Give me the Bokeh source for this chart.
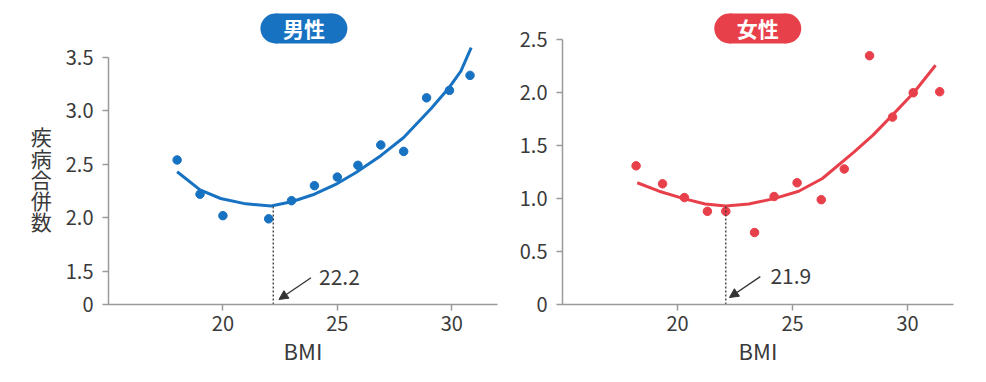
from bokeh.plotting import figure
from bokeh.layouts import row
from bokeh.models import Range1d, FixedTicker, Label, Arrow, NormalHead, NumeralTickFormatter
from bokeh.core.properties import value
from bokeh.embed import file_html
from bokeh.resources import INLINE

# ---------------- data ----------------
# Male (男性)
male_bmi = [18.0, 19.0, 20.0, 22.0, 23.0, 24.0, 25.0, 25.9, 26.9, 27.9, 28.9, 29.9, 30.8]
male_cnt = [2.54, 2.22, 2.02, 1.99, 2.16, 2.30, 2.38, 2.49, 2.68, 2.62, 3.12, 3.19, 3.33]
male_fit_x = [18.0, 19.0, 19.9, 21.0, 22.1, 23.0, 24.0, 25.0, 25.8, 26.9, 27.9, 29.1, 29.9, 30.4, 30.85]
male_fit_y = [2.43, 2.26, 2.18, 2.13, 2.11, 2.15, 2.22, 2.32, 2.42, 2.58, 2.75, 3.02, 3.22, 3.37, 3.59]
male_opt = 22.2
male_opt_label = "22.2"
male_opt_y = 2.11

# Female (女性)
female_bmi = [18.2, 19.35, 20.3, 21.3, 22.1, 23.35, 24.2, 25.2, 26.25, 27.25, 28.35, 29.35, 30.25, 31.4]
female_cnt = [1.31, 1.14, 1.01, 0.88, 0.88, 0.68, 1.02, 1.15, 0.99, 1.28, 2.35, 1.77, 2.00, 2.01]
female_fit_x = [18.25, 19.2, 20.27, 21.2, 22.1, 23.1, 24.2, 25.27, 26.3, 27.67, 28.5, 29.26, 30.27, 31.22]
female_fit_y = [1.15, 1.07, 1.00, 0.95, 0.93, 0.95, 1.00, 1.07, 1.19, 1.44, 1.60, 1.77, 2.00, 2.26]
female_opt = 22.1
female_opt_label = "21.9"
female_opt_y = 0.93

x_ticks = [20, 25, 30]
male_y_ticks = [1.19, 1.5, 2.0, 2.5, 3.0, 3.5]
female_y_ticks = [0.0, 0.5, 1.0, 1.5, 2.0, 2.5]

BLUE = "#1872c2"
RED = "#e8404b"
AXIS = "#9a9a9a"
TXT = "#3a3a3a"
FONT = "Noto Sans CJK JP"


def style(p):
    p.outline_line_color = None
    p.grid.grid_line_color = None
    p.background_fill_color = "white"
    p.border_fill_color = "white"
    for ax in (p.xaxis[0], p.yaxis[0]):
        ax.axis_line_color = AXIS
        ax.axis_line_width = 1.5
        ax.major_tick_line_color = AXIS
        ax.major_tick_line_width = 1.5
        ax.major_tick_out = 6
        ax.major_tick_in = 0
        ax.minor_tick_line_color = None
        ax.major_label_text_font = FONT
        ax.major_label_text_font_size = "20px"
        ax.major_label_text_color = TXT
    p.xaxis.major_label_standoff = 5
    p.yaxis.major_label_standoff = 9
    p.xaxis.ticker = FixedTicker(ticks=x_ticks)
    p.xaxis.axis_label = "BMI"
    p.xaxis.axis_label_text_font = FONT
    p.xaxis.axis_label_text_font_size = "22px"
    p.xaxis.axis_label_text_font_style = "normal"
    p.xaxis.axis_label_text_color = TXT
    p.xaxis.axis_label_standoff = 0
    p.yaxis.formatter = NumeralTickFormatter(format="0.0")


def panel(width, left, right, y0, y1, bounds, yticks, zero_at, bx, by, fx, fy,
          opt, opt_y, opt_label, color, title, title_xy, arrow, lab_xy):
    fw = width - left - right
    p = figure(width=width, height=374, x_range=Range1d(15, 32), y_range=Range1d(y0, y1),
               output_backend="svg", toolbar_location=None,
               min_border_left=left, min_border_right=right, min_border_top=10,
               min_border_bottom=70, frame_width=fw, frame_height=294)
    style(p)
    p.yaxis.bounds = bounds
    p.yaxis.ticker = FixedTicker(ticks=yticks)
    p.yaxis.major_label_overrides = {zero_at: "0"}
    p.line(fx, fy, line_color=color, line_width=3)
    p.scatter(bx, by, size=8.5, fill_color=color, line_color=color)
    p.segment(x0=[opt], y0=[zero_at], x1=[opt], y1=[opt_y], line_color="#333333",
              line_width=1.3, line_dash="2 2")
    p.add_layout(Arrow(end=NormalHead(size=9, fill_color="#333333", line_color="#333333"),
                       x_start=arrow[0], y_start=arrow[1], x_end=arrow[2], y_end=arrow[3],
                       line_color="#333333", line_width=1.3))
    p.add_layout(Label(x=lab_xy[0], y=lab_xy[1], text=opt_label, text_align="left",
                       text_baseline="middle", text_font=FONT, text_font_size="21px",
                       text_color=TXT))
    # pill-shaped title
    dx = 28.5 * 17.0 / fw
    tx, ty = title_xy
    p.rect(x=[tx], y=[ty], width=57, height=30, width_units="screen", height_units="screen",
           fill_color=color, line_color=None)
    p.scatter(x=[tx - dx, tx + dx], y=[ty, ty], size=30, fill_color=color, line_color=None)
    p.text(x=[tx], y=[ty], text=[title], text_align="center", text_baseline="middle",
           text_font=value(FONT), text_font_size="21px", text_font_style="bold",
           text_color="white")
    return p


p1 = panel(515, 108, 18, 1.19, 3.936, (1.19, 3.5), male_y_ticks, 1.19,
           male_bmi, male_cnt, male_fit_x, male_fit_y,
           male_opt, male_opt_y, male_opt_label, BLUE, "男性", (23.54, 3.768),
           (23.85, 1.44, 22.45, 1.237), (24.2, 1.45))
p1.yaxis.axis_label = "\n\n疾\n病\n合\n併\n数"
p1.yaxis.axis_label_orientation = "horizontal"
p1.yaxis.axis_label_text_font = FONT
p1.yaxis.axis_label_text_font_size = "21px"
p1.yaxis.axis_label_text_font_style = "normal"
p1.yaxis.axis_label_text_color = TXT
p1.yaxis.axis_label_text_line_height = 0.71
p1.yaxis.axis_label_standoff = 11

p2 = panel(463, 47, 25, 0.0, 2.777, (0.0, 2.5), female_y_ticks, 0.0,
           female_bmi, female_cnt, female_fit_x, female_fit_y,
           female_opt, female_opt_y, female_opt_label, RED, "女性", (23.49, 2.607),
           (23.6, 0.263, 22.26, 0.066), (24.04, 0.27))

layout = row(p1, p2)
open("out.html", "w").write(file_html(layout, INLINE))
